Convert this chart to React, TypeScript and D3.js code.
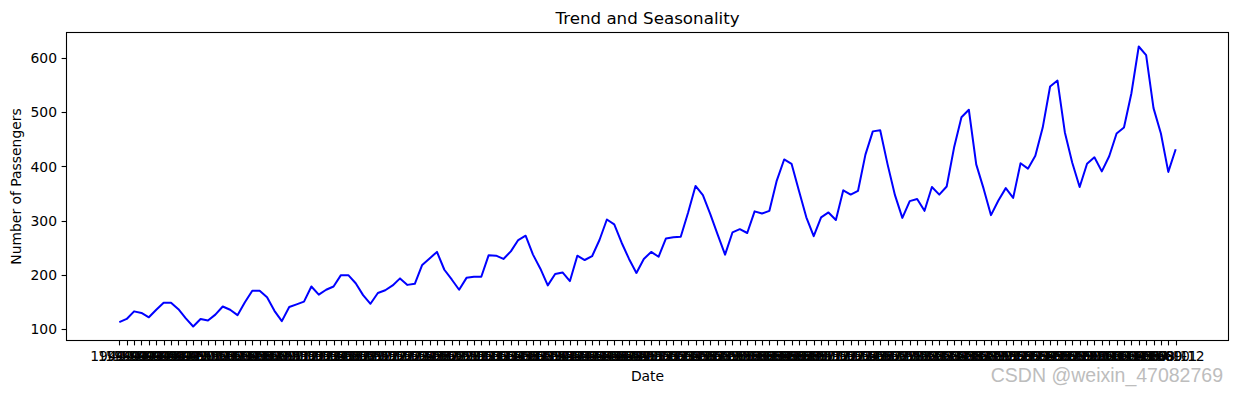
import * as d3 from "d3";

// monthly passengers, one array per year (1949..1960)
const years = [1949, 1950, 1951, 1952, 1953, 1954, 1955, 1956, 1957, 1958, 1959, 1960];
const months = ["01", "02", "03", "04", "05", "06", "07", "08", "09", "10", "11", "12"];
const p1949 = [112, 118, 132, 129, 121, 135, 148, 148, 136, 119, 104, 118];
const p1950 = [115, 126, 141, 135, 125, 149, 170, 170, 158, 133, 114, 140];
const p1951 = [145, 150, 178, 163, 172, 178, 199, 199, 184, 162, 146, 166];
const p1952 = [171, 180, 193, 181, 183, 218, 230, 242, 209, 191, 172, 194];
const p1953 = [196, 196, 236, 235, 229, 243, 264, 272, 237, 211, 180, 201];
const p1954 = [204, 188, 235, 227, 234, 264, 302, 293, 259, 229, 203, 229];
const p1955 = [242, 233, 267, 269, 270, 315, 364, 347, 312, 274, 237, 278];
const p1956 = [284, 277, 317, 313, 318, 374, 413, 405, 355, 306, 271, 306];
const p1957 = [315, 301, 356, 348, 355, 422, 465, 467, 404, 347, 305, 336];
const p1958 = [340, 318, 362, 348, 363, 435, 491, 505, 404, 359, 310, 337];
const p1959 = [360, 342, 406, 396, 420, 472, 548, 559, 463, 407, 362, 405];
const p1960 = [417, 391, 419, 461, 472, 535, 622, 606, 508, 461, 390, 432];
const yTicks = [100, 200, 300, 400, 500, 600];

const passengers = [p1949, p1950, p1951, p1952, p1953, p1954, p1955, p1956, p1957, p1958, p1959, p1960].flat();
const dates = years.flatMap((y) => months.map((m) => `${y}-${m}`));

const W = 1238;
const H = 393;
const left = 66.5, right = 1228.5, top = 32.5, bottom = 340.5;
const font = "DejaVu Sans, sans-serif";
const fs = 13.9;

export default function App() {
  const n = passengers.length;
  const pad = (n - 1) * 0.05;
  const x = d3.scaleLinear().domain([-pad, n - 1 + pad]).range([left, right]);
  const lo = d3.min(passengers)!, hi = d3.max(passengers)!;
  const yPad = (hi - lo) * 0.05;
  const y = d3.scaleLinear().domain([lo - yPad, hi + yPad]).range([bottom, top]);
  const line = d3.line<number>().x((_, i) => x(i)).y((d) => y(d));

  return (
    <svg width={W} height={H} style={{ position: "absolute", left: 0, top: 0 }} fontFamily={font}>
      <rect width={W} height={H} fill="#fff" />
      <text x={(left + right) / 2} y={24} textAnchor="middle" fontSize={16.7}>Trend and Seasonality</text>
      <path d={line(passengers) ?? ""} fill="none" stroke="blue" strokeWidth={2} strokeLinejoin="round" />
      <rect x={left} y={top} width={right - left} height={bottom - top} fill="none" stroke="#000" strokeWidth={1.1} />
      {yTicks.map((t) => (
        <g key={t}>
          <line x1={left - 4.9} x2={left} y1={Math.round(y(t)) + 0.5} y2={Math.round(y(t)) + 0.5} stroke="#000" strokeWidth={1.1} />
          <text x={left - 9.5} y={y(t)} dy="0.36em" textAnchor="end" fontSize={fs}>{t}</text>
        </g>
      ))}
      {dates.map((d, i) => (
        <g key={d}>
          <line x1={Math.round(x(i)) + 0.5} x2={Math.round(x(i)) + 0.5} y1={bottom} y2={bottom + 4.9} stroke="#000" strokeWidth={1.1} />
          <text x={x(i)} y={bottom + 20.5} textAnchor="middle" fontSize={fs}>{d}</text>
        </g>
      ))}
      <text x={(left + right) / 2} y={381} textAnchor="middle" fontSize={fs}>Date</text>
      <text transform={`translate(20.5,${(top + bottom) / 2}) rotate(-90)`} textAnchor="middle" fontSize={fs}>Number of Passengers</text>
      <text x={1223} y={382} textAnchor="end" fontSize={19.5} fill="#bdbdbd" fontFamily="Liberation Sans, Arial, sans-serif">CSDN @weixin_47082769</text>
    </svg>
  );
}
